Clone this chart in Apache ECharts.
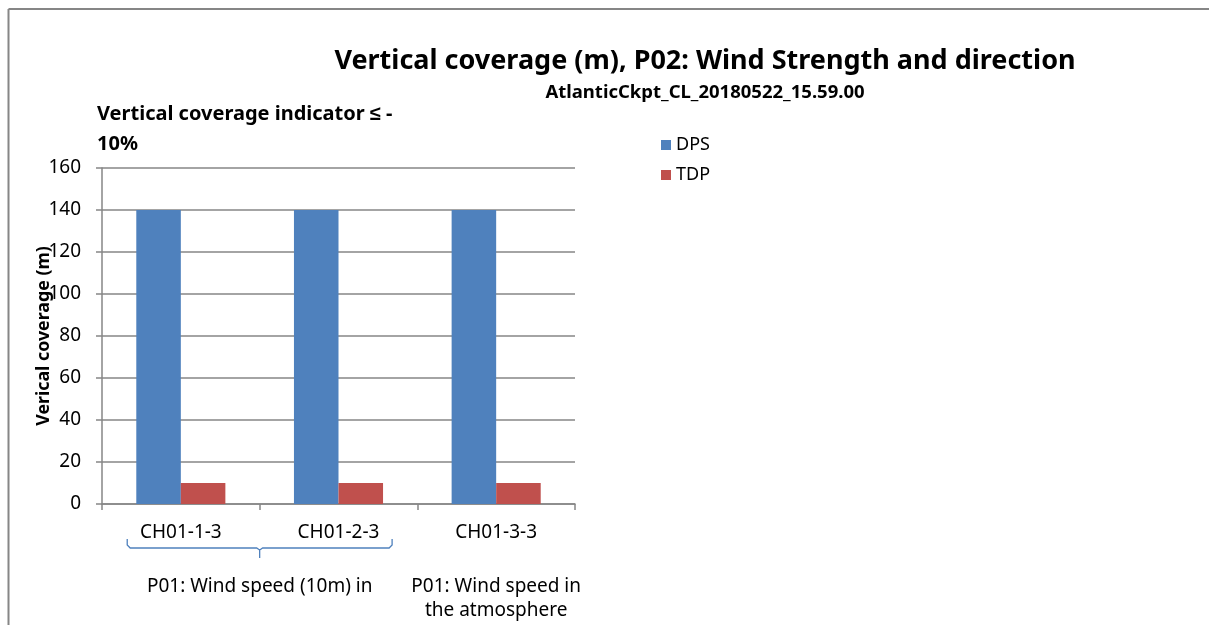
<!DOCTYPE html>
<html>
<head>
<meta charset="utf-8">
<script src="https://cdn.jsdelivr.net/npm/echarts@6/dist/echarts.min.js"></script>
<style>
  html, body { margin: 0; padding: 0; background: #fff; }
  #chart { width: 1209px; height: 625px; }
</style>
</head>
<body>
<div id="chart"></div>
<script>
// Channels on the category axis
const categories = ['CH01-1-3', 'CH01-2-3', 'CH01-3-3'];
// Vertical coverage (m) per channel
const dpsValues = [140, 140, 140];
const tdpValues = [10, 10, 10];
// Parameter groups spanning the channels: [first index, last index, label]
const groups = [
  [0, 1, 'P01: Wind speed (10m) in'],
  [2, 2, 'P01: Wind speed in\nthe atmosphere']
];
const yTicks = { min: 0, max: 160, interval: 20 };

const FONT = '"Noto Sans", sans-serif';
const chart = echarts.init(document.getElementById('chart'));

const option = {
  animation: false,
  backgroundColor: '#ffffff',
  textStyle: { fontFamily: FONT, color: '#000' },
  title: [
    {
      text: 'Vertical coverage (m), P02: Wind Strength and direction',
      left: 700, top: 43, textAlign: 'center',
      textStyle: { fontFamily: FONT, fontSize: 27, fontWeight: 'bold', color: '#000' }
    },
    {
      text: 'AtlanticCkpt_CL_20180522_15.59.00',
      left: 700, top: 78, textAlign: 'center',
      textStyle: { fontFamily: FONT, fontSize: 18.5, fontWeight: 'bold', color: '#000' }
    },
    {
      text: 'Vertical coverage indicator ≤ -\n10%',
      left: 92, top: 94,
      textStyle: { fontFamily: FONT, fontSize: 20, fontWeight: 'bold', color: '#000', lineHeight: 30 }
    }
  ],
  legend: {
    orient: 'vertical',
    left: 656, top: 131,
    itemWidth: 10, itemHeight: 10, itemGap: 12,
    icon: 'rect',
    textStyle: { fontFamily: FONT, fontSize: 18, color: '#000' },
    data: ['DPS', 'TDP']
  },
  grid: { left: 102, top: 168, right: 634, bottom: 121, containLabel: false },
  xAxis: {
    type: 'category',
    data: categories,
    axisLine: { lineStyle: { color: '#868686', width: 1.5 } },
    axisTick: { show: true, length: 6, lineStyle: { color: '#868686', width: 1.5 } },
    axisLabel: { fontFamily: FONT, fontSize: 19, color: '#000', margin: 19 }
  },
  yAxis: {
    type: 'value',
    min: yTicks.min, max: yTicks.max, interval: yTicks.interval,
    name: 'Verical coverage (m)',
    nameLocation: 'middle',
    nameGap: 49,
    nameMoveOverlap: false,
    nameTextStyle: { fontFamily: FONT, fontSize: 17.8, fontWeight: 'bold', color: '#000' },
    axisLine: { show: true, lineStyle: { color: '#868686', width: 1.5 } },
    axisTick: { show: true, length: 6, lineStyle: { color: '#868686', width: 1.5 } },
    axisLabel: { fontFamily: FONT, fontSize: 19, color: '#000', margin: 21 },
    splitLine: { lineStyle: { color: '#868686', width: 1.5 } }
  },
  series: [
    {
      name: 'DPS', type: 'bar', data: dpsValues,
      barGap: '0%', barCategoryGap: '43.5%',
      itemStyle: { color: '#4F81BD' }
    },
    {
      name: 'TDP', type: 'bar', data: tdpValues,
      barGap: '0%', barCategoryGap: '43.5%',
      itemStyle: { color: '#C0504D' }
    }
  ]
};
chart.setOption(option);

// Group labels and the brace under multi-channel groups, placed from the axis scale
const graphics = [
  // frame edges
  { type: 'line', shape: { x1: 8.5, y1: 9, x2: 1209, y2: 9 }, style: { stroke: '#868686', lineWidth: 2 } },
  { type: 'line', shape: { x1: 8.5, y1: 9, x2: 8.5, y2: 625 }, style: { stroke: '#868686', lineWidth: 2 } }
];
const baseY = chart.convertToPixel({ yAxisIndex: 0 }, 0);
const bandW = chart.convertToPixel({ xAxisIndex: 0 }, categories[1]) -
              chart.convertToPixel({ xAxisIndex: 0 }, categories[0]);
groups.forEach(([a, b, label]) => {
  const xa = chart.convertToPixel({ xAxisIndex: 0 }, categories[a]);
  const xb = chart.convertToPixel({ xAxisIndex: 0 }, categories[b]);
  const cx = (xa + xb) / 2;
  if (b > a) {
    const l = xa - bandW * 0.34, r = xb + bandW * 0.34;
    const top = baseY + 35, mid = baseY + 44, tip = baseY + 54;
    graphics.push({
      type: 'polyline',
      shape: { points: [
        [l, top], [l, mid - 3], [l + 3, mid], [cx - 3, mid], [cx, mid + 2], [cx, tip],
        [cx, mid + 2], [cx + 3, mid], [r - 3, mid], [r, mid - 3], [r, top]
      ] },
      style: { stroke: '#4F81BD', lineWidth: 1.3, fill: null }
    });
  }
  graphics.push({
    type: 'text',
    x: cx, y: baseY + 71,
    style: {
      text: label, fontFamily: FONT, fontSize: 19, fill: '#000',
      align: 'center', verticalAlign: 'top', lineHeight: 24
    }
  });
});
chart.setOption({ graphic: graphics });
</script>
</body>
</html>
